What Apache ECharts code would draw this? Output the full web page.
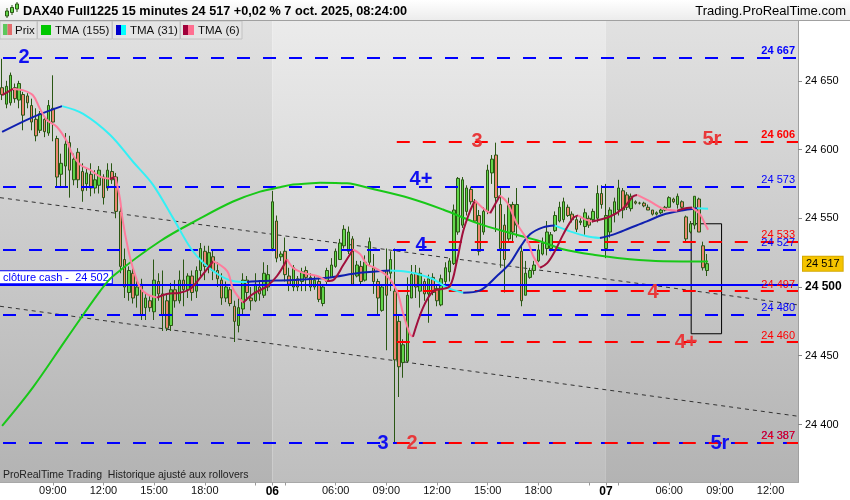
<!DOCTYPE html>
<html><head><meta charset="utf-8">
<script src="https://cdn.jsdelivr.net/npm/echarts@6/dist/echarts.min.js"></script>
<style>html,body{margin:0;padding:0;background:#fff;}#c{width:850px;height:500px;}</style>
</head><body><div id="c"></div>
<script>
// ---------- DATA ----------
const sessions = [
  { day: '03', start: '06:00', end: '21:45' },
  { day: '06', start: '02:15', end: '21:45' },
  { day: '07', start: '02:15', end: '13:30' }
];
const labelTimes = ['06:00', '09:00', '12:00', '15:00', '18:00'];
const tickTimes = ['03:00', '06:00', '09:00', '12:00', '15:00', '18:00', '21:00'];
const yTickLabels = [24400, 24450, 24500, 24550, 24600, 24650];

// [open, close, low, high] per 15-minute bar
const candles = [
 [24645,24640,24636,24666],[24633,24646,24630,24650],[24634,24654,24632,24656],[24645,24637,24634,24648],
 [24636,24648,24630,24650],[24640,24625,24614,24642],[24639,24634,24630,24641],[24632,24620,24614,24637],
 [24622,24610,24606,24630],[24614,24626,24612,24628],[24622,24613,24609,24624],[24612,24632,24610,24636],
 [24630,24620,24606,24654],[24608,24580,24572,24610],[24582,24590,24572,24597],[24588,24604,24572,24612],
 [24605,24585,24565,24610],[24578,24593,24574,24597],[24598,24578,24572,24601],[24584,24570,24562,24590],
 [24575,24583,24570,24586],[24582,24572,24566,24590],[24572,24578,24568,24585],[24574,24585,24568,24588],
 [24580,24565,24560,24582],[24572,24585,24570,24590],[24584,24578,24575,24590],[24580,24555,24550,24583],
 [24555,24515,24510,24560],[24520,24500,24492,24528],[24496,24512,24490,24515],[24510,24492,24488,24515],
 [24494,24500,24485,24505],[24502,24480,24476,24506],[24485,24492,24476,24495],[24490,24485,24482,24494],
 [24482,24505,24476,24520],[24504,24495,24490,24510],[24495,24480,24468,24512],[24490,24470,24468,24495],
 [24472,24498,24468,24503],[24498,24490,24485,24505],[24490,24505,24488,24512],[24505,24498,24486,24520],
 [24498,24508,24492,24510],[24508,24496,24490,24512],[24497,24512,24492,24515],[24512,24528,24508,24532],
 [24526,24515,24505,24530],[24514,24525,24510,24530],[24522,24512,24505,24527],[24512,24506,24500,24518],
 [24505,24492,24487,24510],[24492,24500,24489,24504],[24498,24488,24486,24500],[24486,24475,24460,24490],
 [24472,24485,24467,24492],[24484,24505,24480,24510],[24505,24496,24490,24508],[24492,24490,24483,24500],
 [24490,24502,24489,24510],[24500,24495,24490,24505],[24494,24510,24492,24518],[24500,24509,24497,24516],
 [24528,24562,24526,24570],[24548,24521,24518,24552],[24522,24524,24519,24526],[24526,24509,24504,24536],
 [24508,24502,24497,24514],[24500,24514,24497,24516],[24506,24500,24497,24508],[24504,24511,24497,24514],
 [24512,24507,24497,24515],[24507,24500,24497,24510],[24500,24505,24498,24508],[24504,24491,24489,24507],
 [24488,24500,24486,24502],[24504,24512,24502,24514],[24507,24516,24507,24521],[24515,24526,24514,24528],
 [24520,24532,24520,24535],[24530,24542,24528,24545],[24526,24540,24524,24544],[24535,24502,24502,24537],
 [24508,24516,24507,24519],[24515,24504,24502,24519],[24505,24518,24504,24523],[24518,24533,24516,24536],
 [24514,24504,24495,24524],[24504,24492,24480,24506],[24483,24500,24482,24502],[24512,24494,24454,24528],
 [24510,24520,24497,24526],[24497,24447,24387,24528],[24475,24442,24420,24480],[24445,24458,24434,24462],
 [24446,24494,24445,24507],[24492,24509,24492,24516],[24510,24500,24492,24516],[24497,24510,24485,24514],
 [24504,24495,24490,24506],[24495,24506,24474,24509],[24507,24496,24494,24510],[24499,24490,24486,24502],
 [24487,24506,24486,24509],[24504,24514,24499,24518],[24511,24519,24504,24521],[24517,24556,24516,24560],
 [24540,24579,24538,24580],[24545,24578,24543,24580],[24555,24572,24552,24574],[24571,24562,24560,24573],
 [24562,24548,24547,24564],[24552,24526,24523,24556],[24540,24555,24538,24558],[24555,24585,24553,24589],
 [24583,24593,24575,24596],[24596,24565,24540,24605],[24560,24528,24514,24572],[24545,24520,24496,24553],
 [24535,24560,24533,24565],[24560,24540,24533,24562],[24545,24560,24536,24572],[24526,24490,24486,24530],
 [24494,24510,24494,24519],[24507,24512,24506,24514],[24512,24516,24509,24519],[24519,24527,24518,24531],
 [24524,24532,24523,24536],[24528,24540,24523,24548],[24528,24538,24526,24540],[24541,24552,24540,24555],
 [24548,24558,24547,24562],[24549,24562,24547,24565],[24558,24552,24551,24560],[24553,24549,24547,24555],
 [24549,24542,24540,24552],[24547,24548,24545,24550],[24544,24554,24538,24557],[24550,24545,24543,24552],
 [24549,24555,24547,24557],[24550,24568,24547,24574],[24568,24560,24557,24574],[24528,24552,24521,24575],
 [24540,24556,24536,24558],[24553,24562,24547,24565],[24556,24572,24552,24578],[24570,24556,24550,24572],
 [24567,24558,24556,24569],[24557,24566,24555,24568],[24562,24561,24560,24563],[24561,24561,24560,24562],
 [24561,24559,24558,24562],[24558,24556,24556,24560],[24556,24553,24552,24556],[24553,24554,24552,24555],
 [24554,24556,24553,24557],[24556,24558,24555,24559],[24558,24565,24558,24566],[24564,24562,24561,24565],
 [24560,24566,24557,24568],[24562,24558,24557,24563],[24551,24535,24532,24552],[24540,24546,24539,24548],
 [24545,24566,24542,24566],[24564,24540,24540,24565],[24530,24514,24512,24533],[24512,24517,24508,24524]
];

// moving averages: [bar index, value]
const tma155 = [[0,24399],[7.3,24427],[15.4,24463],[23.2,24497],[26.3,24508],[37.4,24533.3],[46.9,24549.9],
 [54.7,24562.2],[61.1,24569.4],[65.8,24572.5],[68.9,24574.5],[75.3,24575.9],[81.7,24575.4],[87.1,24571.8],
 [96.6,24564.6],[104.4,24556.4],[112.5,24546.5],[120.3,24539.3],[127.4,24533.3],[132.8,24527.5],
 [140.9,24523.1],[148.7,24520.2],[156.5,24518.8],[167.2,24518.6]];
const tma31 = [[0,24612.8],[7.3,24623.6],[14.2,24631.6],[19.2,24626],[25.6,24610.6],[31,24591.1],[35.7,24574.5],
 [40.5,24550.1],[45.2,24526],[50,24511.6],[54.7,24504.3],[58,24503.6],[61.1,24504.3],[68.9,24505.1],
 [77,24506.7],[84.8,24510.3],[91.9,24512.1],[95,24511.5],[97.3,24510.3],[102,24505.8],[105.4,24499.5],
 [109.2,24495.8],[113.2,24497.5],[117.2,24508],[120.3,24517.4],[122.7,24529],[125.1,24538.5],
 [128.1,24543.4],[130.9,24544.8],[134.5,24540.5],[138.5,24536.9],[141.6,24535.6],[144.7,24538.1],
 [148.7,24542.9],[152.7,24547.7],[156.5,24552.6],[160.6,24555.5],[164.6,24557.3],[167.2,24557]];
const tma6 = [[0,24639.5],[2.6,24644.1],[4.9,24643.2],[7.3,24639.5],[9,24629.4],[10.6,24621.5],[13,24616.4],
 [15.4,24605.6],[16.6,24596.9],[18.5,24588.9],[20.8,24585.3],[23.2,24580.3],[25.6,24578.8],[26.8,24580],
 [27.9,24564.4],[28.6,24547.7],[29.8,24528.2],[31,24513.7],[32.7,24499.5],[34.3,24494.9],[36.7,24492.3],
 [39,24494.9],[42.1,24495.9],[44.5,24498.6],[46.9,24506.7],[50,24518.8],[53.3,24511.6],[54.7,24498.6],
 [57.1,24488.6],[59.4,24494.9],[62.7,24500.5],[65.1,24508],[67.5,24520.2],[68.9,24514],[71.3,24510.3],
 [74.6,24508],[77,24504.3],[78.4,24505],[80.8,24516],[83.1,24527.3],[84.8,24523.9],[86.4,24516.6],
 [88.3,24514],[91.2,24508],[93.5,24497.1],[95,24480.5],[96.6,24465.8],[97.3,24463.8],[99.7,24485],
 [102.1,24497.1],[104.2,24498.6],[106.1,24500.7],[107.7,24518.8],[109.2,24540.5],[110.8,24555],[112,24562.9],
 [113.9,24557.3],[115.6,24553.7],[117.9,24566.5],[119.6,24561.5],[122,24545.6],[124.3,24534.7],
 [125.7,24523.1],[127.4,24514],[129.1,24517.4],[130.9,24526],[132.9,24538.3],[135.2,24550.1],[136.4,24552.1],
 [138.1,24549.2],[139.7,24547.7],[144,24551.3],[147.1,24557.3],[149.4,24565.8],[150.4,24567],[153.5,24562.2],
 [156.5,24557.1],[159.9,24555.5],[161.3,24556.9],[163.4,24557.8],[165.3,24552.8],[166.2,24547.7],[167.2,24541.7]];

const blueLevels = [24667, 24573, 24527, 24480, 24387];
const redLevels = [24606, 24533, 24497, 24460, 24387];
const boldLevels = [24667, 24606];
const redStartBar = 93;
const cashClose = 24502;
const lastPrice = 24517;
const trendUpper = [[-0.5, 24565], [188.5, 24487]];
const trendLower = [[-0.5, 24486], [188.5, 24406]];
const boxCorners = [[163.2, 24546], [170.4, 24466]];
const waveLabels = [
  { text: '2',  side: 'blue', bar: 5.2,   price: 24667 },
  { text: '3',  side: 'red',  bar: 112.5, price: 24606 },
  { text: '5r', side: 'red',  bar: 168.1, price: 24607 },
  { text: '4+', side: 'blue', bar: 99.2,  price: 24578 },
  { text: '4',  side: 'blue', bar: 99.2,  price: 24530 },
  { text: '4',  side: 'red',  bar: 154.2, price: 24496 },
  { text: '4+', side: 'red',  bar: 162,   price: 24460 },
  { text: '3',  side: 'blue', bar: 90.2,  price: 24386.5 },
  { text: '2',  side: 'red',  bar: 97.1,  price: 24386.5 },
  { text: '5r', side: 'blue', bar: 170,   price: 24386.5 }
];

// ---------- BUILD ----------
const pad = n => (n < 10 ? '0' : '') + n;
const categories = [];
sessions.forEach(s => {
  const toMin = t => { const [h, m] = t.split(':').map(Number); return h * 60 + m; };
  for (let t = toMin(s.start); t <= toMin(s.end); t += 15) categories.push(s.day + '|' + pad(Math.floor(t / 60)) + ':' + pad(t % 60));
});
const N = categories.length;
const dayStart = categories.map((c, i) => i > 0 && c.split('|')[0] !== categories[i - 1].split('|')[0]);
const dayStartIdx = dayStart.map((d, i) => d ? i : -1).filter(i => i >= 0);
const dayBands = [];
{ const edges = [-0.5].concat(dayStartIdx, [N - 0.5]);
  for (let i = 0; i < edges.length - 1; i++) dayBands.push([edges[i], edges[i + 1], i % 2]); }

const fmt = v => String(v).replace(/\B(?=(\d{3})+(?!\d))/g, ' ');
const YMIN = 24357.8, YMAX = 24693.5;
const BLUE = '#0000ff', RED = '#ff0000', WAVE_RED = '#e8383a', WAVE_BLUE = '#1010f0';
const FONT = 'Liberation Sans, Arial';

function splitDir(pts) {
  const segs = []; let cur = [pts[0]], dir = null;
  for (let i = 1; i < pts.length; i++) {
    const d = pts[i][1] >= pts[i - 1][1] ? 1 : -1;
    if (dir === null || d === dir) { cur.push(pts[i]); dir = d; }
    else { segs.push({ dir, pts: cur }); cur = [pts[i - 1], pts[i]]; dir = d; }
  }
  segs.push({ dir, pts: cur });
  return segs;
}
function maSeries(pts, upColor, downColor, z) {
  return splitDir(pts).map(s => ({
    type: 'line', xAxisIndex: 1, yAxisIndex: 0, data: s.pts, showSymbol: false, smooth: 0.35,
    lineStyle: { width: 2, color: s.dir > 0 ? upColor : downColor }, z, silent: true
  }));
}

const series = [];
series.push({
  type: 'custom', xAxisIndex: 1, yAxisIndex: 0, z: 0, silent: true, data: dayBands, encode: { x: [0, 1] },
  renderItem: (params, api) => {
    const x0 = api.coord([api.value(0), YMIN])[0], x1 = api.coord([api.value(1), YMIN])[0];
    const cs = params.coordSys, light = api.value(2) === 1;
    return { type: 'rect', shape: { x: x0, y: cs.y, width: x1 - x0, height: cs.height },
      style: { fill: new echarts.graphic.LinearGradient(0, 0, 0, 1, [
        { offset: 0, color: light ? '#ebebeb' : '#e1e1e1' }, { offset: 1, color: light ? '#bebebe' : '#b3b3b3' }]) } };
  }
});
// trend lines
[trendUpper, trendLower].forEach(t => series.push({
  type: 'line', xAxisIndex: 1, data: t, showSymbol: false, silent: true, z: 1,
  lineStyle: { color: '#333', width: 1, type: [4, 4] }
}));
// levels
const lvlLabel = (v, color) => ({ show: true, position: 'insideEndTop', formatter: fmt(v), color, fontSize: 11,
  fontFamily: FONT, fontWeight: boldLevels.includes(v) ? 'bold' : 'normal', distance: [3, 1] });
series.push({
  type: 'line', xAxisIndex: 1, data: [], z: 2, silent: true,
  markLine: { silent: true, symbol: ['none', 'none'], animation: false,
    lineStyle: { color: BLUE, width: 2, type: [13, 13], dashOffset: 23 },
    data: blueLevels.map(v => ({ yAxis: v, label: lvlLabel(v, BLUE) })) }
});
series.push({
  type: 'line', xAxisIndex: 1, data: [], z: 2, silent: true,
  markLine: { silent: true, symbol: ['none', 'none'], animation: false,
    lineStyle: { color: RED, width: 2, type: [13, 13], dashOffset: 24 },
    data: redLevels.map(v => [{ coord: [redStartBar, v], label: lvlLabel(v, RED) }, { coord: [N - 0.5, v] }]) }
});
// candles
series.push({
  type: 'candlestick', xAxisIndex: 0, yAxisIndex: 0, data: candles, barWidth: 3, z: 3, silent: true,
  itemStyle: { color: '#62d64a', color0: '#ee8670', borderColor: '#2a5714', borderColor0: '#2a5714', borderWidth: 1 }
});
// cash close line + last price
series.push({
  type: 'line', xAxisIndex: 1, data: [], z: 4, silent: true,
  markLine: { silent: true, symbol: ['none', 'none'], animation: false,
    data: [
      { yAxis: cashClose, lineStyle: { color: BLUE, width: 2, type: 'solid' },
        label: { show: true, position: 'insideStartTop', formatter: 'clôture cash -  ' + fmt(cashClose), color: BLUE,
          fontSize: 11, fontFamily: FONT, backgroundColor: '#fff', borderColor: BLUE, borderWidth: 1,
          padding: [1, 3, 0, 3], distance: [0, 1] } },
      { yAxis: lastPrice, lineStyle: { color: 'rgba(0,0,0,0)', width: 0 },
        label: { show: true, position: 'end', formatter: fmt(lastPrice), color: '#000', fontSize: 11,
          fontFamily: FONT, backgroundColor: '#f5c400', borderColor: '#d4a800', borderWidth: 1,
          padding: [2, 3, 1, 3], distance: 5, opacity: 1 } }
    ] }
});
// moving averages
series.push(...maSeries(tma155, '#18c818', '#18c818', 5));
series.push(...maSeries(tma31, '#1020b0', '#33f0f5', 6));
series.push(...maSeries(tma6, '#a0103c', '#ff7c9c', 7));
// box
series.push({
  type: 'line', xAxisIndex: 1, data: [], z: 8, silent: true,
  markArea: { silent: true, itemStyle: { color: 'rgba(0,0,0,0)', borderColor: '#000', borderWidth: 1 },
    data: [[{ coord: boxCorners[0] }, { coord: boxCorners[1] }]] }
});
// wave labels
series.push({
  type: 'scatter', xAxisIndex: 1, yAxisIndex: 0, z: 9, silent: true, symbolSize: 1,
  itemStyle: { color: 'rgba(0,0,0,0)', opacity: 1 },
  data: waveLabels.map(w => ({ value: [w.bar, w.price], label: { show: true, position: 'inside', formatter: w.text,
    color: w.side === 'red' ? WAVE_RED : WAVE_BLUE, fontSize: 20, fontWeight: 'bold', fontFamily: FONT,
    opacity: 1, textBorderWidth: 0 } }))
});

const option = {
  animation: false,
  backgroundColor: '#fff',
  textStyle: { fontFamily: FONT },
  grid: { left: 0, right: 52, top: 21, bottom: 17.5, containLabel: false },
  xAxis: [
    { type: 'category', data: categories, boundaryGap: true,
      axisLine: { lineStyle: { color: '#a8a8a8' } },
      axisTick: { show: true, alignWithLabel: true, length: 3, lineStyle: { color: '#999' },
        interval: (i, v) => dayStart[i] || (i > 0 && tickTimes.includes(v.split('|')[1])) },
      axisLabel: { margin: 3, fontSize: 11, color: '#111', fontFamily: FONT,
        interval: (i, v) => dayStart[i] || (i > 0 && labelTimes.includes(v.split('|')[1])),
        formatter: (v, i) => dayStart[i] ? '{d|' + v.split('|')[0] + '}' : v.split('|')[1],
        rich: { d: { fontWeight: 'bold', fontSize: 12, color: '#000' } } },
      splitLine: { show: false } },
    { type: 'value', min: -0.5, max: N - 0.5, show: false }
  ],
  yAxis: {
    type: 'value', position: 'right', min: YMIN, max: YMAX, splitNumber: 7, scale: true,
    axisLine: { show: true, onZero: false, lineStyle: { color: '#a0a0a0' } },
    axisTick: { show: true, length: 4, lineStyle: { color: '#888' } },
    splitLine: { show: false },
    axisLabel: { margin: 7, fontSize: 11, color: '#000', showMinLabel: false, showMaxLabel: false,
      formatter: v => yTickLabels.includes(v) ? (v === 24500 ? '{b|' + fmt(v) + '}' : fmt(v)) : '',
      rich: { b: { fontWeight: 'bold', fontSize: 12, color: '#000' } } }
  },
  series,
  graphic: [
    { type: 'rect', z: 100, shape: { x: 0, y: 0, width: 850, height: 20 },
      style: { fill: new echarts.graphic.LinearGradient(0, 0, 0, 1, [{ offset: 0, color: '#ffffff' }, { offset: 1, color: '#ececec' }]) } },
    { type: 'line', z: 101, shape: { x1: 0, y1: 20.5, x2: 850, y2: 20.5 }, style: { stroke: '#a0a0a0', lineWidth: 1 } },
    // header icon (small candles)
    { type: 'line', z: 101, shape: { x1: 7, y1: 8, x2: 7, y2: 18 }, style: { stroke: '#2a5714', lineWidth: 1 } },
    { type: 'rect', z: 101, shape: { x: 5.5, y: 11, width: 3, height: 5 }, style: { fill: '#62d64a', stroke: '#2a5714', lineWidth: 1 } },
    { type: 'line', z: 101, shape: { x1: 12, y1: 5, x2: 12, y2: 15 }, style: { stroke: '#2a5714', lineWidth: 1 } },
    { type: 'rect', z: 101, shape: { x: 10.5, y: 7.5, width: 3, height: 5 }, style: { fill: '#62d64a', stroke: '#2a5714', lineWidth: 1 } },
    { type: 'line', z: 101, shape: { x1: 17, y1: 2, x2: 17, y2: 12 }, style: { stroke: '#2a5714', lineWidth: 1 } },
    { type: 'rect', z: 101, shape: { x: 15.5, y: 4, width: 3, height: 5 }, style: { fill: '#62d64a', stroke: '#2a5714', lineWidth: 1 } },
    { type: 'text', z: 101, style: { x: 23, y: 11, text: 'DAX40 Full1225 15 minutes 24 517 +0,02 % 7 oct. 2025, 08:24:00',
      font: 'bold 12.7px "Liberation Sans", Arial', fill: '#000', verticalAlign: 'middle' } },
    { type: 'text', z: 101, style: { x: 846, y: 11, text: 'Trading.ProRealTime.com', align: 'right', verticalAlign: 'middle',
      font: '13px "Liberation Sans", Arial', fill: '#000' } },
    // legend boxes
    { type: 'rect', z: 100, shape: { x: 0, y: 21, width: 37, height: 18 }, style: { fill: '#e4e4e4', stroke: '#c2c2c2', lineWidth: 1 } },
    { type: 'rect', z: 100, shape: { x: 37.5, y: 21, width: 74.5, height: 18 }, style: { fill: '#e4e4e4', stroke: '#c2c2c2', lineWidth: 1 } },
    { type: 'rect', z: 100, shape: { x: 112.5, y: 21, width: 67.5, height: 18 }, style: { fill: '#e4e4e4', stroke: '#c2c2c2', lineWidth: 1 } },
    { type: 'rect', z: 100, shape: { x: 180.5, y: 21, width: 61.5, height: 18 }, style: { fill: '#e4e4e4', stroke: '#c2c2c2', lineWidth: 1 } },
    { type: 'rect', z: 101, shape: { x: 3, y: 24, width: 4.5, height: 11 }, style: { fill: '#5cc85c' } },
    { type: 'rect', z: 101, shape: { x: 7.5, y: 24, width: 4.5, height: 11 }, style: { fill: '#e36c6c' } },
    { type: 'text', z: 101, style: { x: 15, y: 31, text: 'Prix', font: '11.5px "Liberation Sans", Arial', fill: '#111', verticalAlign: 'middle' } },
    { type: 'rect', z: 101, shape: { x: 41, y: 25, width: 10, height: 10 }, style: { fill: '#00c800' } },
    { type: 'text', z: 101, style: { x: 55, y: 31, text: 'TMA (155)', font: '11.5px "Liberation Sans", Arial', fill: '#111', verticalAlign: 'middle' } },
    { type: 'rect', z: 101, shape: { x: 116, y: 25, width: 5, height: 10 }, style: { fill: '#0000cc' } },
    { type: 'rect', z: 101, shape: { x: 121, y: 25, width: 5, height: 10 }, style: { fill: '#00ffff' } },
    { type: 'text', z: 101, style: { x: 130, y: 31, text: 'TMA (31)', font: '11.5px "Liberation Sans", Arial', fill: '#111', verticalAlign: 'middle' } },
    { type: 'rect', z: 101, shape: { x: 183, y: 25, width: 5, height: 10 }, style: { fill: '#a0003a' } },
    { type: 'rect', z: 101, shape: { x: 188, y: 25, width: 6, height: 10 }, style: { fill: '#ff6f91' } },
    { type: 'text', z: 101, style: { x: 198, y: 31, text: 'TMA (6)', font: '11.5px "Liberation Sans", Arial', fill: '#111', verticalAlign: 'middle' } },
    // footer note
    { type: 'text', z: 101, style: { x: 3, y: 475, text: 'ProRealTime Trading  Historique ajusté aux rollovers',
      font: '10.5px "Liberation Sans", Arial', fill: '#222', verticalAlign: 'middle' } }
  ]
};
const chart = echarts.init(document.getElementById('c'));
chart.setOption(option);
</script></body></html>
